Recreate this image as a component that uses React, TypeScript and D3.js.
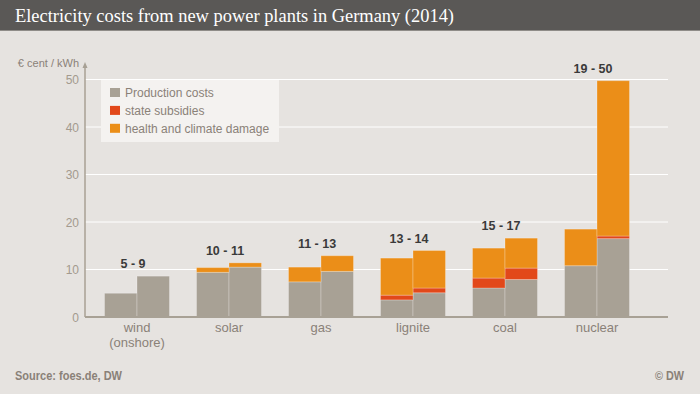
import React from "react";
import * as d3 from "d3";

const categories = ["wind\n(onshore)", "solar", "gas", "lignite", "coal", "nuclear"];
const rangeLabels = ["5 - 9", "10 - 11", "11 - 13", "13 - 14", "15 - 17", "19 - 50"];
// each category has a low (left) and high (right) estimate
const production = [[5.0, 8.6], [9.4, 10.5], [7.4, 9.6], [3.6, 5.1], [6.1, 7.9], [10.8, 16.5]];
const subsidies = [[0, 0], [0, 0], [0, 0], [1.0, 1.0], [2.1, 2.4], [0, 0.55]];
const damage = [[0, 0], [1.0, 0.9], [3.1, 3.3], [7.8, 7.9], [6.3, 6.3], [7.7, 32.7]];
const seriesNames = ["Production costs", "state subsidies", "health and climate damage"];
const seriesColors = ["#a8a195", "#e2481a", "#eb8e18"];
const yTicks = [0, 10, 20, 30, 40, 50];

const W = 700, H = 394;
const x0 = 85, x1 = 668;
const sans = "'Liberation Sans', Arial, sans-serif";

export default function App() {
  const y = d3.scaleLinear().domain([0, 50]).range([317, 79.5]);
  const xb = d3.scaleBand<string>().domain(categories).range([91, 643]).padding(0);
  const sub = d3.scaleBand<string>().domain(["low", "high"]).range([0, 65]).padding(0);

  const stackData = categories.flatMap((c, i) =>
    ["low", "high"].map((k, j) => ({
      cat: c, key: k,
      p: production[i][j], s: subsidies[i][j], d: damage[i][j],
    }))
  );
  const stack = d3.stack<any>().keys(["p", "s", "d"]);
  const series = stack(stackData);

  return (
    <svg width={W} height={H} style={{ position: "absolute", left: 0, top: 0, display: "block" }}>
      <rect x={0} y={0} width={W} height={H} fill="#e6e3e0" />
      <rect x={0} y={0} width={W} height={30} fill="#5a5856" />
      <line x1={0} x2={W} y1={30.5} y2={30.5} stroke="#8f8c88" strokeWidth={1} />
      <text x={15} y={22} fill="#ffffff" fontFamily="'Liberation Serif', Georgia, serif" fontSize={18}
        textLength={439} lengthAdjust="spacingAndGlyphs">
        Electricity costs from new power plants in Germany (2014)
      </text>

      {/* gridlines */}
      {yTicks.filter(t => t > 0).map(t => (
        <line key={t} x1={x0} x2={x1} y1={y(t)} y2={y(t)} stroke="#ffffff" strokeWidth={1} />
      ))}
      {yTicks.map(t => (
        <text key={"t" + t} x={79} y={y(t) + 4.5} textAnchor="end" fill="#a39a8e" fontFamily={sans} fontSize={12}>
          {t}
        </text>
      ))}
      <text x={79} y={67} textAnchor="end" fill="#8a8178" fontFamily={sans} fontSize={11}>€ cent / kWh</text>

      {/* legend */}
      <rect x={101} y={80} width={178} height={62} fill="#f4f2f0" />
      {seriesNames.map((n, i) => (
        <g key={n}>
          <rect x={110} y={88 + i * 17.9} width={10} height={9} fill={seriesColors[i]} />
          <text x={125} y={97 + i * 17.9} fill="#8a8178" fontFamily={sans} fontSize={12}>{n}</text>
        </g>
      ))}

      {/* bars */}
      {series.map((s, si) => (
        <g key={si} fill={seriesColors[si]}>
          {s.map((d, di) => {
            const h = y(d[0]) - y(d[1]);
            if (h <= 0) return null;
            const cx = (xb(d.data.cat) as number) + xb.bandwidth() / 2 - 32.5;
            return (
              <rect key={di} x={cx + (sub(d.data.key) as number)} y={y(d[1])} width={sub.bandwidth()} height={h}
                stroke="#ffffff" strokeOpacity={0.25} strokeWidth={1} />
            );
          })}
        </g>
      ))}

      {/* range labels */}
      {categories.map((c, i) => {
        const top = Math.max(
          production[i][0] + subsidies[i][0] + damage[i][0],
          production[i][1] + subsidies[i][1] + damage[i][1]
        );
        return (
          <text key={"r" + i} x={(xb(c) as number) + xb.bandwidth() / 2 - 4} y={y(top) - 8} textAnchor="middle"
            fill="#3a3a3a" fontFamily={sans} fontSize={12.5} fontWeight="bold">
            {rangeLabels[i]}
          </text>
        );
      })}

      {/* axes */}
      <line x1={x0} x2={x0} y1={66} y2={317} stroke="#a8a195" strokeWidth={1.5} />
      <path d={`M${x0 - 2.5},68 L${x0},62 L${x0 + 2.5},68 Z`} fill="#a8a195" />
      <line x1={x0} x2={x1} y1={317} y2={317} stroke="#a8a195" strokeWidth={2} />

      {categories.map((c, i) => (
        <text key={"x" + i} x={(xb(c) as number) + xb.bandwidth() / 2} y={332} textAnchor="middle"
          fill="#8a8178" fontFamily={sans} fontSize={13}>
          {c.split("\n").map((line, li) => (
            <tspan key={li} x={(xb(c) as number) + xb.bandwidth() / 2} dy={li === 0 ? 0 : 15}>{line}</tspan>
          ))}
        </text>
      ))}

      <text x={15} y={380} fill="#8a8178" fontFamily={sans}
        fontSize={12} fontWeight="bold" textLength={107} lengthAdjust="spacingAndGlyphs">Source: foes.de, DW</text>
      <text x={655} y={380} fill="#8a8178"
        fontFamily={sans} fontSize={12} fontWeight="bold" textLength={29} lengthAdjust="spacingAndGlyphs">© DW</text>
    </svg>
  );
}
